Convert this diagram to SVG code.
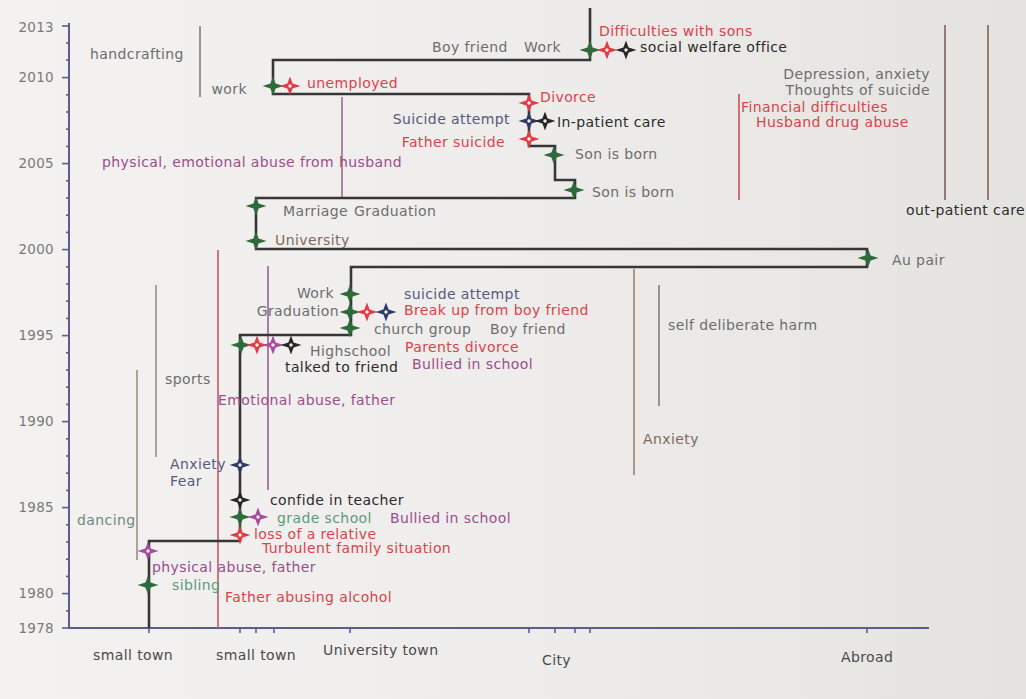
<svg xmlns="http://www.w3.org/2000/svg" width="1026" height="699" viewBox="0 0 1026 699">
<defs>
<linearGradient id="bg" x1="0" y1="0" x2="1" y2="0">
<stop offset="0" stop-color="#f3f2f0"/>
<stop offset="0.5" stop-color="#eeedeb"/>
<stop offset="1" stop-color="#e5e3e0"/>
</linearGradient>
<path id="star" d="M0,-9.5 L2.6,-2.6 L10.5,0 L2.6,2.6 L0,9.5 L-2.6,2.6 L-10.5,0 L-2.6,-2.6 Z"/>
<g id="starh"><use href="#star"/><circle r="1.7" fill="#f2f0ee"/></g>
<style>
.t{font-family:"DejaVu Sans",Verdana,sans-serif;font-size:14px;letter-spacing:0.4px}
.yr{font-family:"DejaVu Sans",Verdana,sans-serif;font-size:13.5px;letter-spacing:0.3px;fill:#7a7a7a;text-anchor:end}
.g{fill:#6d6d6d}.r{fill:#d9434b}.p{fill:#9c4d8c}.k{fill:#2b2b2b}.n{fill:#555b7a}.gr{fill:#5c9c78}.br{fill:#7d6a5c}.dg{fill:#4a4a4a}.dn{fill:#6f8a7c}
.e{text-anchor:end}
.mg{fill:#2f6a3c}.mr{fill:#e23b45}.mp{fill:#a64a9e}.mk{fill:#262626}.mn{fill:#2e3a66}
.path{fill:none;stroke:#363636;stroke-width:2.6;stroke-linejoin:miter}
.per{stroke-width:1.8;fill:none}
.axis{stroke:#5e5c8c;stroke-width:2;fill:none}
.tick{stroke:#5e5c8c;stroke-width:1.6}
</style>
</defs>
<rect width="1026" height="699" fill="url(#bg)"/>

<g id="y-axis">
<line class="axis" x1="69" y1="23" x2="69" y2="629"/>
<g class="tick">
<line x1="62" y1="26" x2="69" y2="26"/><line x1="66" y1="43" x2="69" y2="43"/><line x1="66" y1="60" x2="69" y2="60"/>
<line x1="62" y1="77.6" x2="69" y2="77.6"/><line x1="66" y1="94.8" x2="69" y2="94.8"/><line x1="66" y1="112" x2="69" y2="112"/>
<line x1="66" y1="129.2" x2="69" y2="129.2"/><line x1="66" y1="146.4" x2="69" y2="146.4"/><line x1="62" y1="163.6" x2="69" y2="163.6"/>
<line x1="66" y1="180.8" x2="69" y2="180.8"/><line x1="66" y1="198" x2="69" y2="198"/><line x1="66" y1="215.2" x2="69" y2="215.2"/>
<line x1="66" y1="232.4" x2="69" y2="232.4"/><line x1="62" y1="249.6" x2="69" y2="249.6"/><line x1="66" y1="266.8" x2="69" y2="266.8"/>
<line x1="66" y1="284" x2="69" y2="284"/><line x1="66" y1="301.2" x2="69" y2="301.2"/><line x1="66" y1="318.4" x2="69" y2="318.4"/>
<line x1="62" y1="335.6" x2="69" y2="335.6"/><line x1="66" y1="352.8" x2="69" y2="352.8"/><line x1="66" y1="370" x2="69" y2="370"/>
<line x1="66" y1="387.2" x2="69" y2="387.2"/><line x1="66" y1="404.4" x2="69" y2="404.4"/><line x1="62" y1="421.6" x2="69" y2="421.6"/>
<line x1="66" y1="438.8" x2="69" y2="438.8"/><line x1="66" y1="456" x2="69" y2="456"/><line x1="66" y1="473.2" x2="69" y2="473.2"/>
<line x1="66" y1="490.4" x2="69" y2="490.4"/><line x1="62" y1="507.6" x2="69" y2="507.6"/><line x1="66" y1="524.8" x2="69" y2="524.8"/>
<line x1="66" y1="542" x2="69" y2="542"/><line x1="66" y1="559.2" x2="69" y2="559.2"/><line x1="66" y1="576.4" x2="69" y2="576.4"/>
<line x1="62" y1="593.6" x2="69" y2="593.6"/><line x1="66" y1="610.8" x2="69" y2="610.8"/><line x1="62" y1="628" x2="69" y2="628"/>
</g>
<text class="yr" x="54" y="32">2013</text>
<text class="yr" x="54" y="82">2010</text>
<text class="yr" x="54" y="168">2005</text>
<text class="yr" x="54" y="254">2000</text>
<text class="yr" x="54" y="340">1995</text>
<text class="yr" x="54" y="426">1990</text>
<text class="yr" x="54" y="512">1985</text>
<text class="yr" x="54" y="598">1980</text>
<text class="yr" x="54" y="633">1978</text>
</g>

<g id="x-axis">
<line class="axis" x1="69" y1="628" x2="929" y2="628"/>
<g class="tick" stroke="#3a3a4a">
<line x1="149" y1="628" x2="149" y2="633"/><line x1="240" y1="628" x2="240" y2="633"/><line x1="256" y1="628" x2="256" y2="633"/>
<line x1="274" y1="628" x2="274" y2="633"/><line x1="350" y1="628" x2="350" y2="633"/><line x1="529" y1="628" x2="529" y2="633"/>
<line x1="555" y1="628" x2="555" y2="633"/><line x1="575" y1="628" x2="575" y2="633"/><line x1="590" y1="628" x2="590" y2="633"/>
<line x1="867" y1="628" x2="867" y2="633"/>
</g>
<text class="t dg" x="93" y="660">small town</text>
<text class="t dg" x="216" y="660">small town</text>
<text class="t dg" x="323" y="655">University town</text>
<text class="t dg" x="542" y="665">City</text>
<text class="t dg" x="841" y="662">Abroad</text>
</g>

<g id="periods">
<line class="per" stroke="#8c8c8c" x1="200" y1="26" x2="200" y2="97"/>
<line class="per" stroke="#a77a92" x1="342" y1="97" x2="342" y2="197"/>
<line class="per" stroke="#c86878" x1="218" y1="250" x2="218" y2="628"/>
<line class="per" stroke="#a36f9d" x1="268" y1="266" x2="268" y2="490"/>
<line class="per" stroke="#a09a92" x1="156" y1="285" x2="156" y2="457"/>
<line class="per" stroke="#a09a92" x1="137" y1="370" x2="137" y2="560"/>
<line class="per" stroke="#a88c80" x1="634" y1="269" x2="634" y2="475"/>
<line class="per" stroke="#8c8c8c" x1="659" y1="285" x2="659" y2="406"/>
<line class="per" stroke="#d06068" x1="739" y1="94" x2="739" y2="200"/>
<line class="per" stroke="#8c6e6e" x1="945" y1="25" x2="945" y2="200"/>
<line class="per" stroke="#8c6e6e" x1="988" y1="25" x2="988" y2="200"/>
</g>

<g id="connectors">
<path class="path" d="M149,628 V541 H240 V335 H351 V267 H867 V249 H256 V198 H575 V180 H555 V146 H529 V94 H273 V60 H590 V8"/>
</g>

<g id="period-labels">
<text class="t g" x="90" y="59">handcrafting</text>
<text class="t p" x="102" y="167">physical, emotional abuse from husband</text>
<text class="t g e" x="930" y="79">Depression, anxiety</text>
<text class="t g e" x="930" y="95">Thoughts of suicide</text>
<text class="t r" x="741" y="112">Financial difficulties</text>
<text class="t r" x="756" y="127">Husband drug abuse</text>
<text class="t k" x="906" y="215">out-patient care</text>
<text class="t g" x="668" y="330">self deliberate harm</text>
<text class="t br" x="643" y="444">Anxiety</text>
<text class="t g" x="165" y="384">sports</text>
<text class="t p" x="218" y="405">Emotional abuse, father</text>
<text class="t dn" x="77" y="525">dancing</text>
<text class="t r" x="225" y="602">Father abusing alcohol</text>
<text class="t p" x="390" y="523">Bullied in school</text>
<text class="t r" x="262" y="553">Turbulent family situation</text>
</g>

<g id="n-sibling"><use href="#star" class="mg" x="148" y="585"/><text class="t gr" x="172" y="590">sibling</text></g>
<g id="n-physical-abuse"><use href="#starh" class="mp" x="148" y="551"/><text class="t p" x="152" y="572">physical abuse, father</text></g>
<g id="n-loss"><use href="#starh" class="mr" x="240" y="535"/><text class="t r" x="254" y="539">loss of a relative</text></g>
<g id="n-grade-school"><use href="#star" class="mg" x="240" y="517"/><text class="t gr" x="277" y="523">grade school</text></g>
<g id="n-bullied-1"><use href="#starh" class="mp" x="258" y="517"/></g>
<g id="n-confide"><use href="#starh" class="mk" x="240" y="500"/><text class="t k" x="270" y="505">confide in teacher</text></g>
<g id="n-anxiety-fear"><use href="#starh" class="mn" x="240" y="465"/><text class="t n" x="170" y="469">Anxiety</text><text class="t n" x="170" y="486">Fear</text></g>
<g id="n-highschool"><use href="#star" class="mg" x="241" y="345"/><text class="t g" x="310" y="356">Highschool</text></g>
<g id="n-parents-divorce"><use href="#starh" class="mr" x="257" y="345"/><text class="t r" x="405" y="352">Parents divorce</text></g>
<g id="n-bullied-2"><use href="#starh" class="mp" x="273" y="345"/><text class="t p" x="412" y="369">Bullied in school</text></g>
<g id="n-talked"><use href="#starh" class="mk" x="291" y="345"/><text class="t k" x="285" y="372">talked to friend</text></g>
<g id="n-church"><use href="#star" class="mg" x="350" y="328"/><text class="t g" x="374" y="334">church group</text><text class="t g" x="490" y="334">Boy friend</text></g>
<g id="n-graduation"><use href="#star" class="mg" x="350" y="312"/><text class="t g e" x="339" y="316">Graduation</text></g>
<g id="n-breakup"><use href="#starh" class="mr" x="367" y="312"/><text class="t r" x="404" y="315">Break up from boy friend</text></g>
<g id="n-suicide-attempt-1"><use href="#starh" class="mn" x="386" y="312"/><text class="t n" x="404" y="299">suicide attempt</text></g>
<g id="n-work-1"><use href="#star" class="mg" x="350" y="294"/><text class="t g e" x="334" y="298">Work</text></g>
<g id="n-au-pair"><use href="#star" class="mg" x="868" y="258"/><text class="t g" x="892" y="265">Au pair</text></g>
<g id="n-university"><use href="#star" class="mg" x="256" y="241"/><text class="t br" x="275" y="245">University</text></g>
<g id="n-marriage"><use href="#star" class="mg" x="256" y="206"/><text class="t g" x="283" y="216">Marriage</text><text class="t g" x="354" y="216">Graduation</text></g>
<g id="n-son-1"><use href="#star" class="mg" x="574" y="190"/><text class="t g" x="592" y="197">Son is born</text></g>
<g id="n-son-2"><use href="#star" class="mg" x="554" y="155"/><text class="t g" x="575" y="159">Son is born</text></g>
<g id="n-father-suicide"><use href="#starh" class="mr" x="529" y="139"/><text class="t r e" x="505" y="147">Father suicide</text></g>
<g id="n-suicide-attempt-2"><use href="#starh" class="mn" x="529" y="121"/><text class="t n e" x="510" y="124">Suicide attempt</text></g>
<g id="n-inpatient"><use href="#starh" class="mk" x="545" y="121"/><text class="t k" x="557" y="127">In-patient care</text></g>
<g id="n-divorce"><use href="#starh" class="mr" x="529" y="103"/><text class="t r" x="540" y="102">Divorce</text></g>
<g id="n-work-2"><use href="#star" class="mg" x="273" y="86"/><text class="t g e" x="247" y="94">work</text></g>
<g id="n-unemployed"><use href="#starh" class="mr" x="290" y="86"/><text class="t r" x="307" y="88">unemployed</text></g>
<g id="n-work-3"><use href="#star" class="mg" x="590" y="50"/><text class="t g" x="432" y="52">Boy friend</text><text class="t g" x="524" y="52">Work</text></g>
<g id="n-difficulties"><use href="#starh" class="mr" x="607" y="50"/><text class="t r" x="599" y="36">Difficulties with sons</text></g>
<g id="n-welfare"><use href="#starh" class="mk" x="626" y="50"/><text class="t k" x="640" y="52">social welfare office</text></g>
</svg>
